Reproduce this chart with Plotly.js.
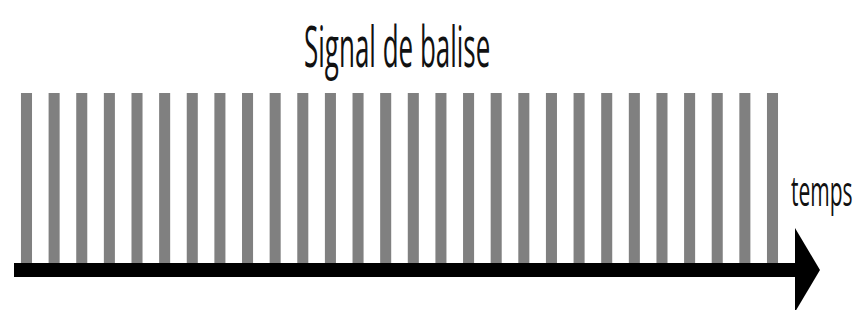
<!DOCTYPE html>
<html>
<head>
<meta charset="utf-8">
<script src="https://cdn.plot.ly/plotly-3.0.1.min.js"></script>
<style>
  html, body { margin: 0; padding: 0; background: #ffffff; }
  #chart { width: 854px; height: 310px; }
  .stretch-y { transform-box: fill-box; transform-origin: center; }
</style>
</head>
<body>
<div id="chart"></div>
<script>
// Pulse times (beacon signal) and pulse levels
const pulseTimes = [1, 2, 3, 4, 5, 6, 7, 8, 9, 10, 11, 12, 13, 14,
                    15, 16, 17, 18, 19, 20, 21, 22, 23, 24, 25, 26, 27, 28];
const pulseLevels = [1, 1, 1, 1, 1, 1, 1, 1, 1, 1, 1, 1, 1, 1,
                     1, 1, 1, 1, 1, 1, 1, 1, 1, 1, 1, 1, 1, 1];
const titleText = "Signal de balise";
const axisLabel = "temps";

const W = 854, H = 310;
const px = v => v / W;
const py = v => 1 - v / H;

const trace = {
  type: 'bar',
  x: pulseTimes,
  y: pulseLevels,
  width: 0.4,
  marker: { color: '#808080', line: { width: 0 } },
  hoverinfo: 'skip'
};

const layout = {
  width: W, height: H,
  margin: { l: 0, r: 0, t: 0, b: 0, pad: 0 },
  paper_bgcolor: '#ffffff',
  plot_bgcolor: '#ffffff',
  showlegend: false,
  xaxis: { range: [0.041, 30.95], visible: false, fixedrange: true },
  yaxis: { range: [-0.226, 1.525], visible: false, fixedrange: true },
  shapes: [
    { type: 'rect', xref: 'paper', yref: 'paper',
      x0: px(14), x1: px(797), y0: py(277), y1: py(263),
      fillcolor: '#000000', line: { width: 0 }, layer: 'above' },
    { type: 'path', xref: 'paper', yref: 'paper',
      path: `M ${px(795)},${py(228)} L ${px(820)},${py(270)} L ${px(795)},${py(312)} Z`,
      fillcolor: '#000000', line: { width: 0 }, layer: 'above' }
  ],
  annotations: [
    { text: titleText, xref: 'paper', yref: 'paper',
      x: px(397), y: py(45), xanchor: 'center', yanchor: 'middle',
      showarrow: false,
      font: { family: 'Open Sans, Liberation Sans, sans-serif', size: 26, color: '#111111' } },
    { text: axisLabel, xref: 'paper', yref: 'paper',
      x: px(822), y: py(190), xanchor: 'center', yanchor: 'middle',
      showarrow: false,
      font: { family: 'Open Sans, Liberation Sans, sans-serif', size: 21, color: '#111111' } }
  ]
};

Plotly.newPlot('chart', [trace], layout, { staticPlot: true, displayModeBar: false }).then(() => {
  const texts = document.querySelectorAll('#chart .annotation-text');
  const scales = [2.2, 2.0];
  texts.forEach((t, i) => {
    t.classList.add('stretch-y');
    t.style.transform = `scaleY(${scales[i] || 1})`;
  });
});
</script>
</body>
</html>
